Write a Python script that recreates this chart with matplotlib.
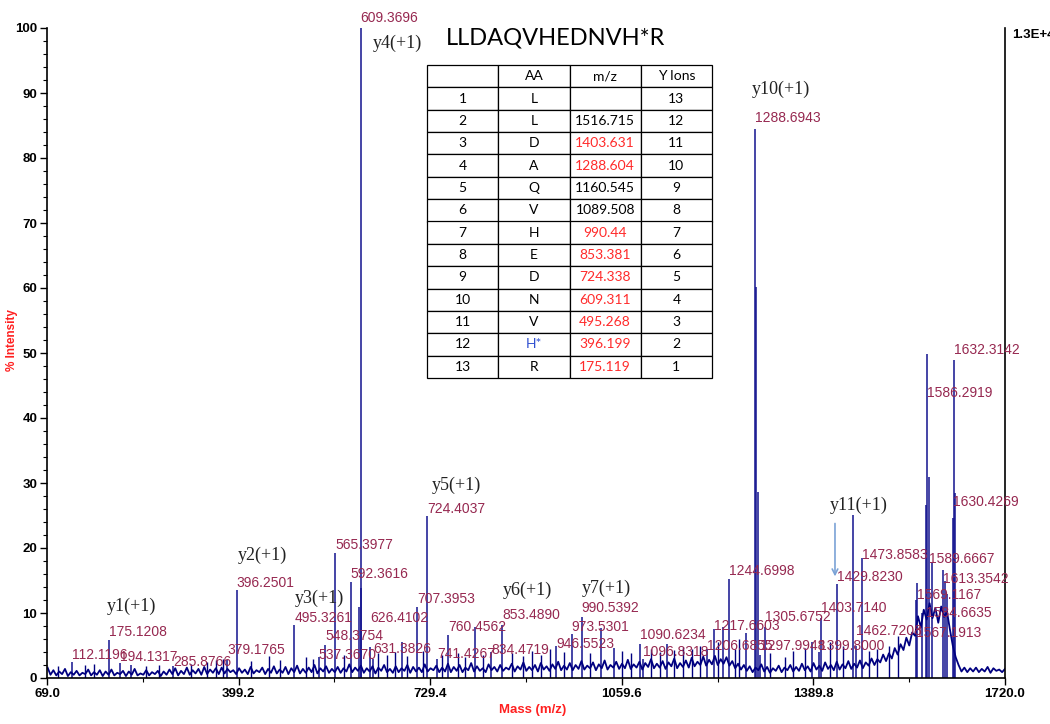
import numpy as np
import matplotlib.pyplot as plt
from matplotlib.ticker import MultipleLocator

plt.rcParams['font.family'] = ['Liberation Sans', 'DejaVu Sans']

# noisy baseline, one reading every 5 m/z from 70 to 1720
base_start = 70
base_step = 5
base_int = [
    1.6, 0.5, 1.2, 0.4, 1.0, 0.6, 1.4, 0.3, 0.9, 0.5, 1.1, 0.4, 0.8, 0.6, 1.3, 0.4, 0.9, 0.5, 1.2, 0.3,
    1.0, 0.5, 1.3, 0.4, 0.8, 0.6, 1.1, 0.3, 1.0, 0.5, 1.4, 0.4, 0.7, 0.5, 1.2, 0.4, 0.9, 0.6, 1.1, 0.3,
    1.0, 0.5, 1.3, 0.6, 1.5, 0.4, 1.1, 0.6, 1.6, 0.5, 1.2, 0.7, 1.4, 0.5, 1.7, 0.6, 1.3, 0.8, 1.5, 0.6,
    1.6, 0.7, 1.4, 0.9, 1.2, 0.6, 1.5, 0.8, 1.3, 0.6, 1.7, 0.7, 1.2, 0.9, 1.6, 0.6, 1.4, 0.8, 1.8, 0.7,
    1.3, 0.8, 1.7, 0.6, 1.5, 0.9, 1.9, 0.7, 1.4, 0.8, 1.6, 0.9, 2.0, 0.7, 1.5, 1.0, 1.8, 0.8, 1.4, 0.9,
    1.7, 0.8, 1.5, 1.0, 2.1, 0.9, 1.6, 1.1, 1.9, 0.8, 1.5, 1.0, 1.8, 0.7, 1.6, 1.1, 2.0, 0.9, 1.4, 0.8,
    1.8, 0.9, 1.5, 1.1, 2.0, 0.8, 1.7, 1.0, 1.6, 0.9, 2.1, 1.0, 1.5, 1.2, 1.9, 0.9, 1.6, 1.0, 2.2, 0.9,
    1.7, 1.1, 2.0, 0.9, 1.6, 1.2, 2.3, 1.0, 1.8, 1.1, 1.5, 0.9, 2.1, 1.2, 1.7, 1.0, 2.0, 1.1, 1.6, 1.3,
    2.2, 1.0, 1.8, 1.3, 2.4, 1.1, 1.7, 1.2, 2.0, 1.0, 2.3, 1.3, 1.8, 1.1, 2.1, 1.4, 2.5, 1.2, 1.9, 1.3,
    2.3, 1.2, 2.0, 1.4, 2.6, 1.3, 1.9, 1.5, 2.4, 1.2, 2.1, 1.5, 2.7, 1.3, 2.0, 1.6, 2.5, 1.4, 2.2, 1.5,
    2.8, 1.4, 2.1, 1.6, 2.5, 1.3, 2.3, 1.7, 2.9, 1.5, 2.2, 1.6, 2.6, 1.4, 2.4, 1.8, 3.0, 1.5, 2.3, 1.7,
    2.7, 1.6, 3.1, 1.8, 2.5, 2.0, 3.3, 1.9, 2.8, 2.1, 3.4, 2.0, 2.9, 2.2, 3.2, 1.9, 2.6, 1.5, 2.2, 1.3,
    2.0, 1.1, 1.8, 0.9, 1.6, 1.2, 2.1, 1.0, 1.7, 0.8, 1.5, 1.1, 1.9, 0.9, 1.6, 1.2, 2.0, 1.0, 1.7, 1.1,
    2.2, 1.2, 1.8, 1.0, 2.3, 1.3, 1.9, 1.1, 2.4, 1.4, 2.0, 1.2, 2.5, 1.3, 2.1, 1.5, 2.6, 1.4, 2.2, 1.6,
    2.7, 1.5, 2.4, 1.9, 3.0, 2.0, 2.9, 2.4, 3.6, 2.6, 3.8, 3.0, 4.6, 3.6, 5.2, 4.3, 6.2, 5.0, 7.0, 6.5,
    9.5, 7.8, 10.5, 9.0, 11.5, 9.2, 10.8, 8.5, 11.0, 9.4, 10.2, 7.5, 5.0, 3.2, 2.0, 1.0, 1.6, 0.9, 1.5, 1.0,
    1.6, 0.9, 1.4, 1.0, 1.7, 0.8, 1.5, 1.1, 1.3, 0.9, 1.4]

# labelled / main peaks (m/z, % intensity)
peak_mz = [112.12, 175.12, 194.13, 213.0, 285.88, 379.18, 396.25, 495.33, 537.37, 548.38,
           565.40, 592.36, 607.0, 609.37, 611.0, 626.41, 631.38, 680.0, 707.40, 724.40,
           741.43, 760.46, 806.6, 834.47, 853.49, 946.55, 973.53, 990.54, 1024.5, 1046.0,
           1090.62, 1096.83, 1137.0, 1206.69, 1217.66, 1234.0, 1244.70, 1273.0, 1288.69,
           1291.5, 1294.0, 1297.99, 1305.68, 1387.0, 1399.80, 1403.71, 1429.82, 1458.6,
           1462.72, 1473.86, 1567.19, 1569.12, 1577.0, 1584.66, 1586.29, 1588.5, 1593.7,
           1613.35, 1616.5, 1620.0, 1630.43, 1632.31, 1634.5]
peak_int = [2.5, 5.9, 2.3, 2.0, 1.8, 2.8, 13.5, 8.2, 3.2, 5.1,
            19.3, 14.8, 11.0, 100.0, 13.8, 4.8, 3.0, 5.6, 10.9, 25.0,
            3.0, 6.6, 7.9, 4.0, 8.2, 5.0, 6.7, 9.4, 7.7, 4.6,
            5.3, 3.0, 5.2, 4.5, 7.5, 7.9, 15.2, 6.9, 84.5,
            60.2, 28.6, 3.5, 7.8, 5.6, 4.0, 9.3, 14.5, 25.1,
            5.0, 18.5, 12.0, 14.6, 10.0, 26.6, 49.8, 31.0, 17.7,
            16.6, 15.0, 13.0, 24.6, 49.0, 28.4]

# small unlabelled spikes in the noise
minor_mz = [88, 135, 150, 240, 262, 318, 345, 360, 372, 420, 452, 470, 515, 528, 580, 640, 655,
            668, 690, 717, 750, 778, 790, 820, 870, 890, 905, 920, 935, 960, 1005, 1060, 1075,
            1110, 1125, 1150, 1165, 1180, 1195, 1225, 1255, 1262, 1315, 1340, 1355, 1375, 1418,
            1440, 1485, 1500, 1520, 1535]
minor_int = [1.9, 2.0, 2.1, 1.8, 2.0, 2.2, 2.4, 2.8, 3.0, 2.6, 3.4, 2.8, 3.2, 2.9, 3.6, 3.8, 3.5,
             4.0, 3.4, 4.2, 3.6, 3.9, 3.2, 3.5, 3.8, 3.4, 4.1, 3.6, 4.4, 4.0, 3.8, 4.2, 3.9,
             4.4, 4.0, 4.3, 4.8, 4.5, 5.0, 5.5, 4.5, 6.0, 3.8, 3.2, 4.2, 4.6, 5.5,
             5.0, 4.2, 4.5, 5.0, 6.5]

label_text = ["112.1196", "175.1208", "194.1317", "285.8766", "379.1765", "396.2501",
              "495.3261", "537.3670", "548.3754", "565.3977", "592.3616", "609.3696",
              "626.4102", "631.3826", "707.3953", "724.4037", "741.4267", "760.4562",
              "834.4719", "853.4890", "946.5523", "973.5301", "990.5392", "1090.6234",
              "1096.8318", "1206.6855", "1217.6603", "1244.6998", "1288.6943", "1297.9948",
              "1305.6752", "1399.8000", "1403.7140", "1429.8230", "1462.7208", "1473.8583",
              "1567.1913", "1569.1167", "1584.6635", "1586.2919", "1589.6667", "1613.3542",
              "1630.4269", "1632.3142"]
label_y = [3.5, 7.1, 3.3, 2.5, 4.3, 14.6, 9.2, 3.5, 6.4, 20.5, 16.0, 101.5,
           9.2, 4.5, 12.1, 26.0, 3.7, 7.9, 4.3, 9.7, 5.3, 7.9, 10.7, 6.6,
           4.0, 4.9, 8.0, 16.5, 86.2, 4.9, 9.4, 4.9, 10.7, 15.5, 7.3, 18.9,
           6.9, 12.8, 10.0, 43.9, 18.3, 15.2, 27.0, 50.4]

ion_text = ["y1(+1)", "y2(+1)", "y3(+1)", "y4(+1)", "y5(+1)", "y6(+1)", "y7(+1)", "y10(+1)", "y11(+1)"]
ion_x = [172.4, 398.2, 496.4, 630.8, 732.5, 854.9, 991.0, 1284.0, 1418.4]
ion_y = [11.0, 18.9, 12.3, 97.7, 29.7, 13.5, 13.8, 90.5, 26.6]

seq_title = "LLDAQVHEDNVH*R"
tbl_header = ["", "AA", "m/z", "Y Ions"]
tbl_pos = [str(i) for i in range(1, 14)]
tbl_aa = ["L", "L", "D", "A", "Q", "V", "H", "E", "D", "N", "V", "H*", "R"]
tbl_mz = ["", "1516.715", "1403.631", "1288.604", "1160.545", "1089.508", "990.44",
          "853.381", "724.338", "609.311", "495.268", "396.199", "175.119"]
tbl_yion = [str(i) for i in range(13, 0, -1)]
tbl_mz_red = [False, False, True, True, False, False, True, True, True, True, True, True, True]

x_ticks = [69.0, 399.2, 729.4, 1059.6, 1389.8, 1720.0]

navy = '#000080'
stick = '#12128e'
lab_col = '#962850'
red = '#ff2020'

fig = plt.figure(figsize=(10.5, 7.24), dpi=100)
ax = fig.add_axes([47 / 1050, 46 / 724, 958 / 1050, 650 / 724])

base_mz = base_start + base_step * np.arange(len(base_int))
ax.vlines(minor_mz, 0, minor_int, color=navy, lw=1.0)
ax.vlines(peak_mz, 0, peak_int, color=stick, lw=1.1)
ax.plot(base_mz, base_int, color=navy, lw=1.3)

for t, y in zip(label_text, label_y):
    ax.text(float(t), y, t, color=lab_col, fontsize=10, ha='left', va='center', clip_on=False)
for t, x, y in zip(ion_text, ion_x, ion_y):
    ax.text(x, y, t, color='#222222', fontsize=13, family=['Liberation Serif', 'DejaVu Serif'],
            ha='left', va='center')

ax.annotate('', xy=(1427, 15.2), xytext=(1427, 24.2),
            arrowprops=dict(arrowstyle='->', color='#7ba3d6', lw=1.2))

ax.set_xlim(69, 1720)
ax.set_ylim(0, 100)
ax.set_xticks(x_ticks)
ax.set_xticklabels([f"{v:.1f}" for v in x_ticks])
ax.set_xticks([(a + b) / 2 for a, b in zip(x_ticks[:-1], x_ticks[1:])], minor=True)
ax.yaxis.set_major_locator(MultipleLocator(10))
ax.yaxis.set_minor_locator(MultipleLocator(2))
ax.tick_params(which='major', length=5, width=1, labelsize=9.5, pad=2)
ax.tick_params(which='minor', length=3, width=0.8)
for lab in ax.get_xticklabels() + ax.get_yticklabels():
    lab.set_fontweight('bold')
ax.spines['top'].set_visible(False)
for s in ['left', 'bottom', 'right']:
    ax.spines[s].set_linewidth(1.2)

fig.text(12 / 1050, 1 - 340 / 724, '% Intensity', rotation=90, color=red, fontsize=8.5,
         fontweight='bold', ha='center', va='center')
fig.text(533 / 1050, 1 - 710 / 724, 'Mass (m/z)', color=red, fontsize=9.5,
         fontweight='bold', ha='center', va='center')
fig.text(1012 / 1050, 1 - 35 / 724, '1.3E+4', fontsize=9.5, fontweight='bold',
         ha='left', va='center')

# sequence title and fragment table
fig.text(556 / 1050, 1 - 38 / 724, seq_title, fontsize=17, family=['Lato', 'DejaVu Sans'],
         ha='center', va='center')
ax_t = fig.add_axes([427 / 1050, 1 - 378 / 724, 285 / 1050, 313 / 724])
ax_t.axis('off')
cells = [tbl_header] + [list(r) for r in zip(tbl_pos, tbl_aa, tbl_mz, tbl_yion)]
tab = ax_t.table(cellText=cells, bbox=[0, 0, 1, 1], cellLoc='center')
tab.auto_set_font_size(False)
for (r, c), cell in tab.get_celld().items():
    cell.set_linewidth(0.9)
    cell.set_edgecolor('black')
    txt = cell.get_text()
    txt.set_fontsize(10)
    txt.set_fontfamily(['Lato', 'DejaVu Sans'])
    if r >= 1 and c == 2 and tbl_mz_red[r - 1]:
        txt.set_color('#ff2a2a')
    if r >= 1 and c == 1 and tbl_aa[r - 1] == 'H*':
        txt.set_color('#3050d0')

fig.savefig('out.png', dpi=100)
